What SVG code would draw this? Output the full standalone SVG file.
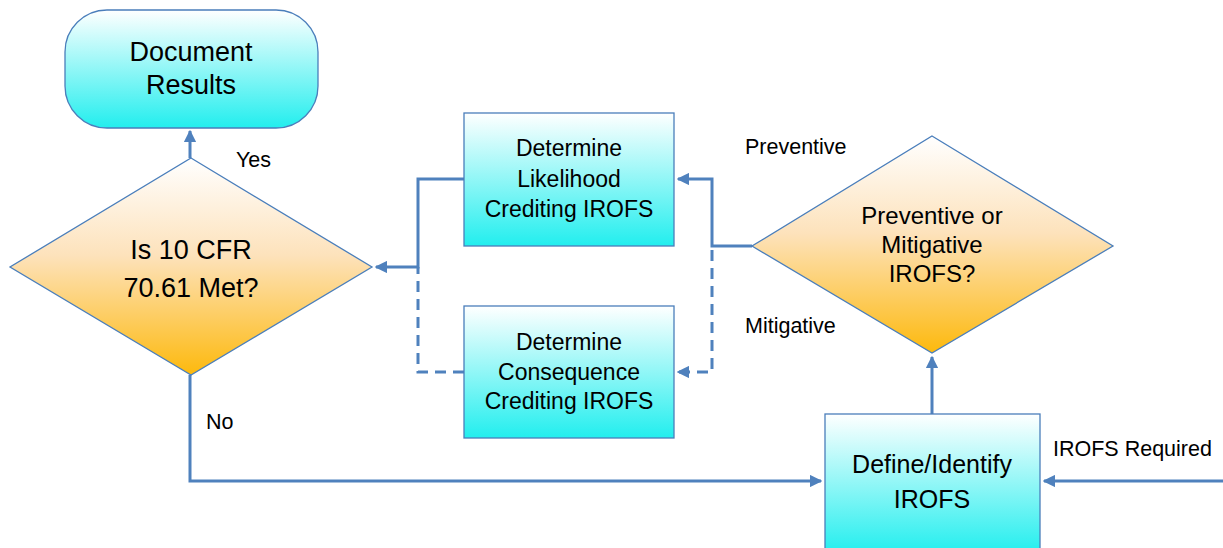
<svg xmlns="http://www.w3.org/2000/svg" width="1223" height="548" viewBox="0 0 1223 548">
<defs>
<linearGradient id="gc" x1="0" y1="0" x2="0" y2="1"><stop offset="0" stop-color="#ffffff"/><stop offset="1" stop-color="#22eeee"/></linearGradient>
<linearGradient id="go" x1="0" y1="0" x2="0" y2="1"><stop offset="0" stop-color="#ffffff"/><stop offset="0.45" stop-color="#fde2bb"/><stop offset="1" stop-color="#fdb90d"/></linearGradient>
<marker id="ah" viewBox="0 0 10 10" refX="9" refY="5" markerWidth="4.2" markerHeight="4.2" orient="auto" markerUnits="strokeWidth"><path d="M0,0 L10,5 L0,10 z" fill="#4f81bd"/></marker>
</defs>
<style>
.node{stroke:#4a7ebb;stroke-width:1.3}
.t{font-family:"Liberation Sans",Arial,sans-serif;fill:#000;text-anchor:middle}
.lbl{font-family:"Liberation Sans",Arial,sans-serif;fill:#000;font-size:21.5px}
.c{fill:none;stroke:#4f81bd;stroke-width:3}
.d{stroke-dasharray:11 7}
</style>
<g id="connectors">
<path class="c" d="M190,158 V131" marker-end="url(#ah)"/>
<path class="c" d="M464,179 H418 V267 H376" marker-end="url(#ah)"/>
<path class="c d" d="M464,372 H418 V267"/>
<path class="c" d="M752,246 H712 V179 H678" marker-end="url(#ah)"/>
<path class="c d" d="M712,250 V372 H678" marker-end="url(#ah)"/>
<path class="c" d="M932,414 V357" marker-end="url(#ah)"/>
<path class="c" d="M190,375 V481 H821" marker-end="url(#ah)"/>
<path class="c" d="M1223,481 H1044" marker-end="url(#ah)"/>
</g>
<g id="doc">
<rect class="node" x="65" y="10" width="253" height="118" rx="42" ry="42" fill="url(#gc)"/>
<text class="t" font-size="27" x="191" y="61">Document</text>
<text class="t" font-size="27" x="191" y="94">Results</text>
</g>
<g id="decision1">
<polygon class="node" points="191,158 372,267 191,375 10,267" fill="url(#go)"/>
<text class="t" font-size="27" x="191" y="259">Is 10 CFR</text>
<text class="t" font-size="27" x="191" y="297">70.61 Met?</text>
</g>
<g id="likelihood">
<rect class="node" x="464" y="113" width="210" height="133" fill="url(#gc)"/>
<text class="t" font-size="23" x="569" y="156">Determine</text>
<text class="t" font-size="23" x="569" y="187">Likelihood</text>
<text class="t" font-size="23" x="569" y="217">Crediting IROFS</text>
</g>
<g id="consequence">
<rect class="node" x="464" y="306" width="210" height="132" fill="url(#gc)"/>
<text class="t" font-size="23" x="569" y="350">Determine</text>
<text class="t" font-size="23" x="569" y="380">Consequence</text>
<text class="t" font-size="23" x="569" y="409">Crediting IROFS</text>
</g>
<g id="decision2">
<polygon class="node" points="932,136 1113,246 932,353 752,246" fill="url(#go)"/>
<text class="t" font-size="24" x="932" y="224">Preventive or</text>
<text class="t" font-size="24" x="932" y="253">Mitigative</text>
<text class="t" font-size="24" x="932" y="282">IROFS?</text>
</g>
<g id="define">
<rect class="node" x="825" y="414" width="215" height="140" fill="url(#gc)"/>
<text class="t" font-size="25" x="932" y="473">Define/Identify</text>
<text class="t" font-size="25" x="932" y="508">IROFS</text>
</g>
<g id="labels">
<text class="lbl" x="236" y="167">Yes</text>
<text class="lbl" x="745" y="154">Preventive</text>
<text class="lbl" x="745" y="333">Mitigative</text>
<text class="lbl" x="206" y="429">No</text>
<text class="lbl" x="1053" y="456">IROFS Required</text>
</g>
</svg>
